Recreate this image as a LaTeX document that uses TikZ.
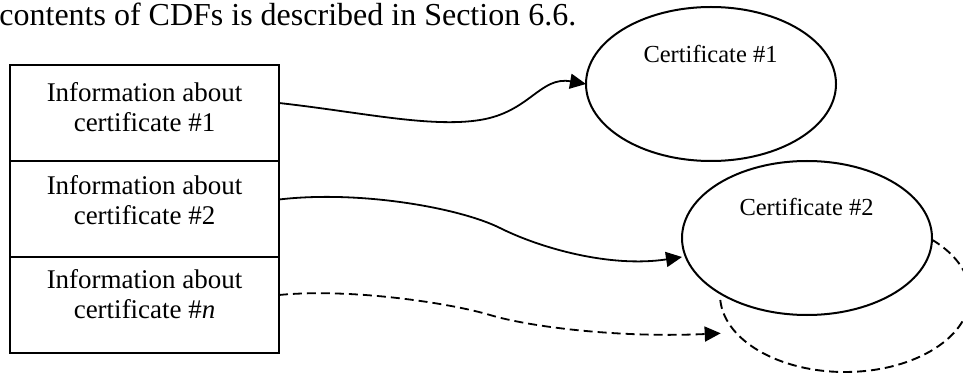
\documentclass[tikz,border=0pt]{standalone}
\usepackage{fontspec}
\setmainfont{Liberation Serif}
\usetikzlibrary{arrows.meta,shapes.geometric,calc}
\begin{document}
\begin{tikzpicture}[x=1pt,y=-1pt,
  rowbox/.style={draw, line width=2.2pt, minimum width=269pt, minimum height=96pt, inner sep=0pt, outer sep=0pt, anchor=north west},
  rowtext/.style={anchor=north, align=center, inner sep=0pt, font=\fontsize{27}{29.5}\selectfont},
  certshape/.style={draw, ellipse, line width=2pt, minimum width=250pt, minimum height=154pt, inner sep=0pt, outer sep=0pt},
  certtext/.style={anchor=base, inner sep=0pt, font=\fontsize{24.5}{29}\selectfont},
  conn/.style={line width=1.8pt, -{Triangle[length=16pt,width=15pt]}},
  dashconn/.style={conn, dash pattern=on 9pt off 5pt},
  dashline/.style={line width=1.9pt, dash pattern=on 9pt off 5pt}]
\useasboundingbox (0,0) rectangle (963,374);
\clip (0,0) rectangle (963,374);

% heading text
\node[anchor=base west, inner sep=0pt, font=\fontsize{32}{38}\selectfont] (head) at (-0.8,25.5) {contents of CDFs is described in Section 6.6.};

% table of rows
\node[rowbox] (r1) at (10,65) {};
\node[rowbox] (r2) at (10,161) {};
\node[rowbox] (r3) at (10,257) {};
\node[rowtext] (t1) at (144.6,82.3) {Information about\\certificate \#1};
\node[rowtext] (t2) at (144.6,175.6) {Information about\\certificate \#2};
\node[rowtext] (t3) at (144.6,269.6) {Information about\\certificate \#\textit{n}};

% certificates
\node[certshape] (c1) at (711,84) {};
\node[certshape] (c2) at (807,238) {};
\node[certtext] (l1) at (710.5,63) {Certificate \#1};
\node[certtext] (l2) at (806.5,215) {Certificate \#2};
\coordinate (c3) at (845,295);
\draw[dashline] ([shift={(183.7:125pt and 77pt)}]c3) arc[start angle=183.7, end angle=405.5, x radius=125pt, y radius=77pt];

% connectors
\coordinate (s1) at ([yshift=10pt]r1.east);
\coordinate (s2) at ([yshift=9.5pt]r2.east);
\coordinate (s3) at ([yshift=10pt]r3.east);
\coordinate (m1) at (480,120);
\coordinate (m2) at (500,228);
\coordinate (m3) at (490,315);
\coordinate (e2) at ([yshift=-19pt]c2.west);
\coordinate (e3) at ([yshift=-38.3pt,xshift=0.7pt]c3 -| 720,0);

\draw[conn] (s1) .. controls (360,112) and (430,128) .. (m1) .. controls (530,112) and (540,76) .. (c1.west);
\draw[conn] (s2) .. controls (360,190) and (460,208) .. (m2) .. controls (540,248) and (610,268) .. (e2);
\draw[dashconn] (s3) .. controls (350,288) and (450,303) .. (m3) .. controls (530,327) and (620,338) .. (e3);
\end{tikzpicture}
\end{document}
